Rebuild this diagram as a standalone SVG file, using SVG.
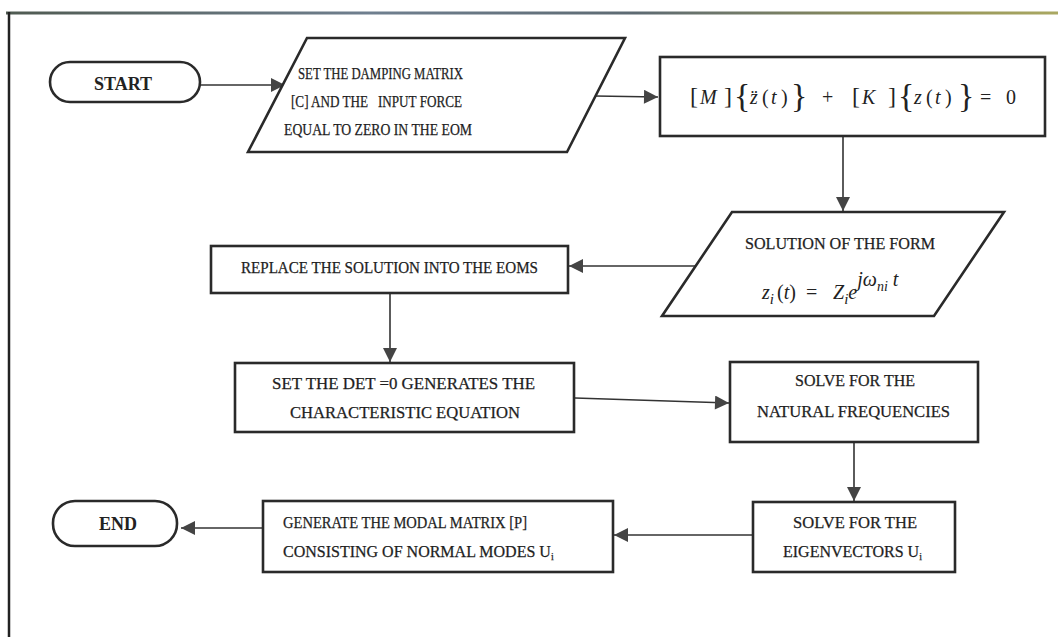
<svg xmlns="http://www.w3.org/2000/svg" width="1058" height="637" viewBox="0 0 1058 637">
<defs>
<linearGradient id="topg" gradientUnits="userSpaceOnUse" x1="0" y1="0" x2="1058" y2="0">
<stop offset="0" stop-color="#4f5a50"/>
<stop offset="0.35" stop-color="#6f7f8f"/>
<stop offset="0.6" stop-color="#5d6a72"/>
<stop offset="0.85" stop-color="#8e8f58"/>
<stop offset="1" stop-color="#aaa862"/>
</linearGradient>
<marker id="ah" viewBox="0 0 10 10" refX="10" refY="5" markerWidth="16" markerHeight="14" markerUnits="userSpaceOnUse" orient="auto">
<path d="M0,0 L10,5 L0,10 Z" fill="#444"/>
</marker>
</defs>
<style>
.box{fill:#fff;stroke:#2a2a2a;stroke-width:2.6}
.t{font-family:"Liberation Serif",serif;font-size:16px;fill:#1e1e1e;stroke:#1e1e1e;stroke-width:0.25}
.tb{font-family:"Liberation Serif",serif;font-size:18px;font-weight:bold;fill:#222}
.m{font-family:"Liberation Serif",serif;font-size:20px;fill:#222}
.c{fill:none;stroke:#333;stroke-width:1.6;marker-end:url(#ah)}
</style>
<rect width="1058" height="637" fill="#fff"/>
<g id="frame">
<line x1="6" y1="13" x2="1058" y2="13" stroke="url(#topg)" stroke-width="3"/>
<line x1="9" y1="12" x2="9" y2="637" stroke="#222" stroke-width="2.5"/>
</g>
<g id="connectors">
<path class="c" d="M200,85 L285,85"/>
<path class="c" d="M595,96 L658,97"/>
<path class="c" d="M843,136 L843,211"/>
<path class="c" d="M696,266 L569,266"/>
<path class="c" d="M390,293 L390,362"/>
<path class="c" d="M575,398 L729,403"/>
<path class="c" d="M854,442 L854,501"/>
<path class="c" d="M753,535 L614,535"/>
<path class="c" d="M263,528 L181,528"/>
</g>
<g id="start">
<rect class="box" x="50" y="62" width="150" height="40" rx="20" ry="20"/>
<text class="tb" x="123" y="90" text-anchor="middle">START</text>
</g>
<g id="set-damping">
<polygon class="box" points="307,38 625,38 567,152 248,152"/>
<text class="t" x="298" y="79" textLength="165" lengthAdjust="spacingAndGlyphs">SET THE DAMPING MATRIX</text>
<text class="t" x="291" y="107" textLength="171" lengthAdjust="spacingAndGlyphs" xml:space="preserve">[C] AND THE   INPUT FORCE</text>
<text class="t" x="284" y="135" textLength="188" lengthAdjust="spacingAndGlyphs">EQUAL TO ZERO IN THE EOM</text>
</g>
<g id="equation">
<rect class="box" x="660" y="57" width="385" height="79"/>
<text class="m" y="104">
<tspan x="690" font-size="24">[</tspan><tspan x="700" font-style="italic">M</tspan><tspan x="724" font-size="24">]</tspan><tspan x="734" font-size="34" dy="3">{</tspan><tspan x="750" font-style="italic" dy="-3">z&#776;</tspan><tspan x="762">(</tspan><tspan x="771" font-style="italic">t</tspan><tspan x="781">)</tspan><tspan x="791" font-size="34" dy="3">}</tspan><tspan x="822" dy="-3">+</tspan><tspan x="852" font-size="24">[</tspan><tspan x="862" font-style="italic">K</tspan><tspan x="888" font-size="24">]</tspan><tspan x="898" font-size="34" dy="3">{</tspan><tspan x="914" font-style="italic" dy="-3">z</tspan><tspan x="926">(</tspan><tspan x="935" font-style="italic">t</tspan><tspan x="945">)</tspan><tspan x="958" font-size="34" dy="3">}</tspan><tspan x="980" dy="-3">=</tspan><tspan x="1006">0</tspan>
</text>
</g>
<g id="solution">
<polygon class="box" points="732,212 1004,212 934,316 662,316"/>
<text class="t" x="840" y="249" text-anchor="middle" textLength="190" lengthAdjust="spacingAndGlyphs">SOLUTION OF THE FORM</text>
<text class="m" y="299" font-size="27" font-style="italic"><tspan x="762">z</tspan><tspan dy="5" font-size="15">i</tspan><tspan dy="-5" x="777" font-style="normal">(</tspan><tspan>t</tspan><tspan font-style="normal">)</tspan><tspan x="806" font-style="normal">=</tspan><tspan x="833">Z</tspan><tspan dy="5" font-size="15">i</tspan><tspan dy="-5">e</tspan><tspan dy="-13" font-size="20">jω</tspan><tspan dy="5" font-size="14">ni</tspan><tspan dy="-5" font-size="20"> t</tspan></text>
</g>
<g id="replace">
<rect class="box" x="211" y="246" width="357" height="47"/>
<text class="t" x="241" y="273" textLength="297" lengthAdjust="spacingAndGlyphs">REPLACE THE SOLUTION INTO THE EOMS</text>
</g>
<g id="set-det">
<rect class="box" x="235" y="363" width="339" height="69"/>
<text class="t" x="272" y="389" textLength="263" lengthAdjust="spacingAndGlyphs">SET THE DET =0 GENERATES THE</text>
<text class="t" x="290" y="418" textLength="230" lengthAdjust="spacingAndGlyphs">CHARACTERISTIC EQUATION</text>
</g>
<g id="natural-freq">
<rect class="box" x="730" y="362" width="248" height="80"/>
<text class="t" x="795" y="386" textLength="120" lengthAdjust="spacingAndGlyphs">SOLVE FOR THE</text>
<text class="t" x="757" y="417" textLength="193" lengthAdjust="spacingAndGlyphs">NATURAL FREQUENCIES</text>
</g>
<g id="eigenvectors">
<rect class="box" x="753" y="502" width="202" height="70"/>
<text class="t" x="793" y="528" textLength="124" lengthAdjust="spacingAndGlyphs">SOLVE FOR THE</text>
<text class="t" x="783" y="557">EIGENVECTORS U<tspan font-size="10" dy="3">i</tspan></text>
</g>
<g id="modal-matrix">
<rect class="box" x="263" y="501" width="350" height="71"/>
<text class="t" x="283" y="528" textLength="244" lengthAdjust="spacingAndGlyphs">GENERATE THE MODAL MATRIX [P]</text>
<text class="t" x="283" y="557">CONSISTING OF NORMAL MODES U<tspan font-size="10" dy="3">i</tspan></text>
</g>
<g id="end">
<rect class="box" x="53" y="501" width="124" height="45" rx="22" ry="22"/>
<text class="tb" x="118" y="530" text-anchor="middle">END</text>
</g>
</svg>
